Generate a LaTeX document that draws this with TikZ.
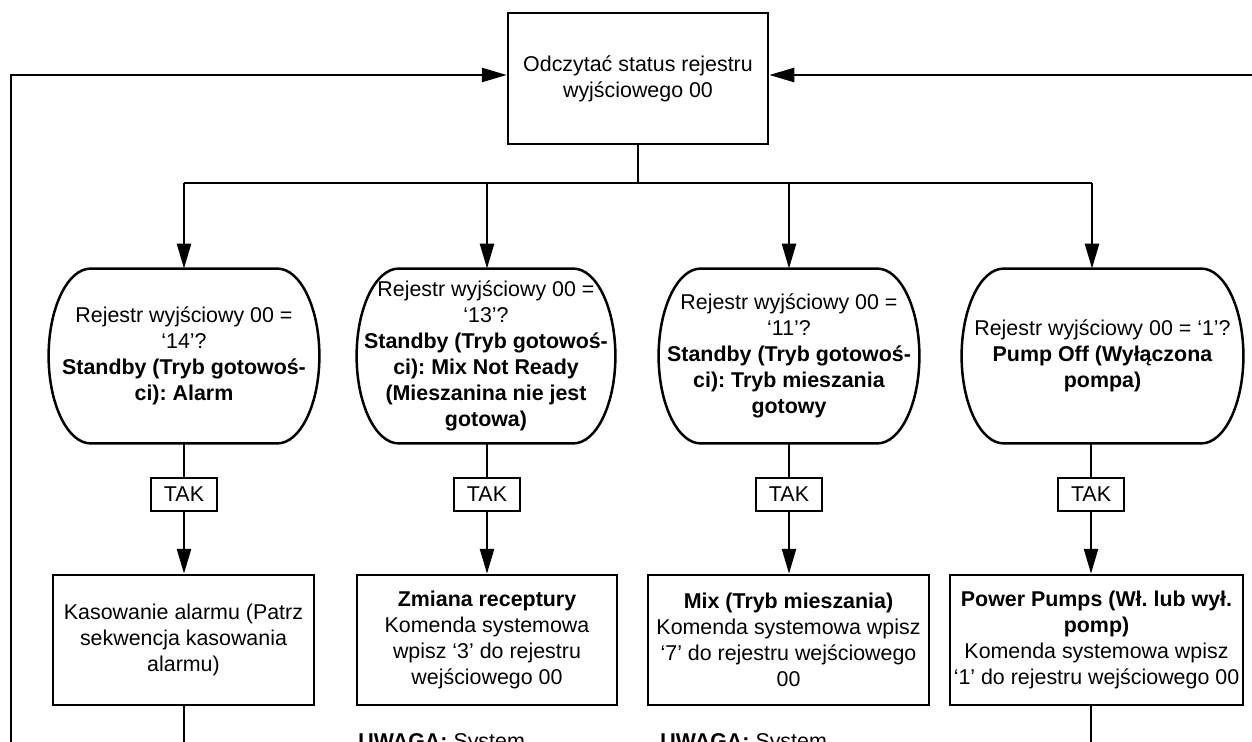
\documentclass[tikz,border=0pt]{standalone}
\usepackage{fontspec}
\setmainfont{Liberation Sans}
\usetikzlibrary{arrows.meta, calc}
\frenchspacing
\newcommand{\fsz}{\fontsize{10.7}{13}\selectfont}
\tikzset{
  wire/.style={line width=1.25pt},
  flo/.style={wire, -{Triangle[length=12.5pt, width=7pt]}},
  proc/.style={draw, wire, minimum height=65pt, inner sep=0pt, align=center, font=\fsz},
  deci/.style={minimum height=87pt, inner sep=0pt, align=center, font=\fsz},
  yes/.style={draw, wire, minimum width=33pt, minimum height=16.5pt, inner sep=0pt, font=\fsz},
  note/.style={anchor=base west, inner sep=0pt, font=\fsz}
}
\newcommand{\decshape}[1]{\draw[wire] ($(#1.north west)+(42,0)$) -- ($(#1.north east)+(-42,0)$)
	.. controls +(23,0) and +(0,-48) .. (#1.east)
	.. controls +(0,48) and +(23,0) .. ($(#1.south east)+(-42,0)$)
	-- ($(#1.south west)+(42,0)$)
	.. controls +(-23,0) and +(0,48) .. (#1.west)
	.. controls +(0,-48) and +(-23,0) .. ($(#1.north west)+(42,0)$) -- cycle;}

\begin{document}
\begin{tikzpicture}[x=0.5pt, y=-0.5pt]
		\useasboundingbox (0,0) rectangle (1252,742);
		\node[proc, minimum width=130pt, minimum height=65.5pt] (top) at (638,78.5) {Odczytać status rejestru\\wyjściowego 00};
		\coordinate (b1) at (184,183);
		\coordinate (b2) at (487,183);
		\coordinate (b3) at (789,183);
		\coordinate (b4) at (1092,183);
		\node[deci, minimum width=135pt] (d1) at (184,356) {Rejestr wyjściowy 00 =\\‘14’?\\\textbf{Standby (Tryb gotowoś-}\\\textbf{ci): Alarm}};
		\node[deci, minimum width=129pt] (d2) at (486,356) {Rejestr wyjściowy 00 =\\‘13’?\\\textbf{Standby (Tryb gotowoś-}\\\textbf{ci): Mix Not Ready}\\\textbf{(Mieszanina nie jest}\\\textbf{gotowa)}};
		\node[deci, minimum width=130pt] (d3) at (789,356) {Rejestr wyjściowy 00 =\\‘11’?\\\textbf{Standby (Tryb gotowoś-}\\\textbf{ci): Tryb mieszania}\\\textbf{gotowy}};
		\node[deci, minimum width=140.5pt] (d4) at (1102.5,356) {Rejestr wyjściowy 00 = ‘1’?\\\textbf{Pump Off (Wyłączona}\\\textbf{pompa)}};
		\foreach \n in {d1,d2,d3,d4} {\decshape{\n}}
		\node[yes] (t1) at (184,494.5) {TAK};
		\node[yes] (t2) at (487,494.5) {TAK};
		\node[yes] (t3) at (789,494.5) {TAK};
		\node[yes] (t4) at (1091,494.5) {TAK};
		\node[proc, minimum width=130.5pt] (p1) at (183.5,640) {Kasowanie alarmu (Patrz\\sekwencja kasowania\\alarmu)};
		\node[proc, minimum width=130pt] (p2) at (487,640) {\textbf{Zmiana receptury}\\Komenda systemowa\\wpisz ‘3’ do rejestru\\wejściowego 00};
		\node[proc, minimum width=140.5pt] (p3) at (788.5,640) {\textbf{Mix (Tryb mieszania)}\\Komenda systemowa wpisz\\‘7’ do rejestru wejściowego\\00};
		\node[proc, minimum width=146.5pt] (p4) at (1096.5,640) {\textbf{Power Pumps (Wł. lub wył.}\\\textbf{pomp)}\\Komenda systemowa wpisz\\‘1’ do rejestru wejściowego 00};
		\node[note] (n2) at (358,748) {\textbf{UWAGA:} System};
		\node[note] (n3) at (660,748) {\textbf{UWAGA:} System};
		\coordinate (l1) at (11,770);
		\coordinate (l2) at (11,75);
		\coordinate (r2) at (1262,75);
		\coordinate (e1) at (184,770);
		\coordinate (e4) at (1091,770);
		\draw[wire] (top.south) -- (top.south |- b1);
		\draw[wire] (b1) -- (b4);
		\draw[flo] (b1) -- (b1 |- d1.north);
		\draw[flo] (b2) -- (b2 |- d2.north);
		\draw[flo] (b3) -- (b3 |- d3.north);
		\draw[flo] (b4) -- (b4 |- d4.north);
		\draw[wire] (t1 |- d1.south) -- (t1.north);
		\draw[wire] (t2 |- d2.south) -- (t2.north);
		\draw[wire] (t3 |- d3.south) -- (t3.north);
		\draw[wire] (t4 |- d4.south) -- (t4.north);
		\draw[flo] (t1.south) -- (t1 |- p1.north);
		\draw[flo] (t2.south) -- (t2 |- p2.north);
		\draw[flo] (t3.south) -- (t3 |- p3.north);
		\draw[flo] (t4.south) -- (t4 |- p4.north);
		\draw[wire] (e1 |- p1.south) -- (e1);
		\draw[wire] (e4 |- p4.south) -- (e4);
		\draw[flo] (l1) -- (l2) -- (l2 -| top.west);
		\draw[flo] (r2) -- (r2 -| top.east);
	\end{tikzpicture}
\end{document}
